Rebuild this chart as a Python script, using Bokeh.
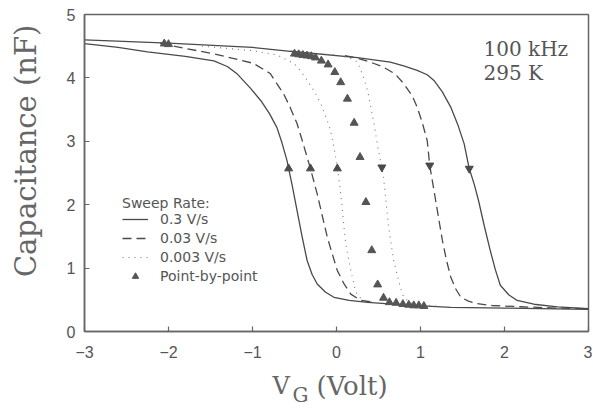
import math
from bokeh.plotting import figure
from bokeh.layouts import row, column
from bokeh.models import (Range1d, FixedTicker, Legend, LegendItem, Label)
from bokeh.embed import file_html
from bokeh.resources import INLINE

# ---- data ----
solid_up_x = [-3.0, -2.6, -2.25, -1.8, -1.46, -1.3, -1.18, -1.02, -0.9, -0.8, -0.71, -0.65, -0.59, -0.53,
              -0.47, -0.41, -0.35, -0.29, -0.23, -0.13, -0.03, 0.15, 0.37, 0.8, 1.36, 2.0, 3.0]
solid_up_c = [4.54, 4.48, 4.41, 4.34, 4.27, 4.18, 4.06, 3.83, 3.64, 3.44, 3.22, 2.98, 2.70, 2.32,
              1.91, 1.50, 1.12, 0.90, 0.75, 0.62, 0.54, 0.49, 0.46, 0.42, 0.38, 0.37, 0.35]
solid_dn_x = [-3.0, -2.0, -1.0, -0.55, 0.25, 0.64, 0.8, 0.96, 1.08, 1.16, 1.26, 1.36, 1.45, 1.52, 1.58,
              1.64, 1.69, 1.76, 1.83, 1.89, 1.95, 2.05, 2.15, 2.35, 2.63, 3.0]
solid_dn_c = [4.60, 4.55, 4.48, 4.42, 4.32, 4.25, 4.19, 4.12, 4.05, 3.96, 3.78, 3.54, 3.24, 2.96, 2.57,
              2.32, 2.07, 1.66, 1.28, 0.98, 0.73, 0.58, 0.49, 0.43, 0.39, 0.36]

dash_up_x = [-2.1, -1.98, -1.46, -0.99, -0.79, -0.63, -0.55, -0.47, -0.41, -0.35, -0.31, -0.23, -0.17,
             -0.11, -0.05, 0.01, 0.09, 0.17, 0.29, 0.45]
dash_up_c = [4.55, 4.51, 4.38, 4.23, 4.07, 3.75, 3.53, 3.28, 3.02, 2.75, 2.57, 2.17, 1.83,
             1.49, 1.22, 0.96, 0.75, 0.59, 0.49, 0.46]
dash_dn_x = [0.1, 0.25, 0.4, 0.56, 0.7, 0.8, 0.9, 0.96, 1.02, 1.08, 1.11, 1.18, 1.26, 1.31, 1.36, 1.42,
             1.48, 1.57, 1.67, 1.85, 2.2, 2.6, 3.0]
dash_dn_c = [4.35, 4.31, 4.25, 4.17, 4.06, 3.91, 3.72, 3.54, 3.30, 3.01, 2.62, 2.07, 1.44, 1.12, 0.86, 0.67,
             0.54, 0.48, 0.44, 0.41, 0.39, 0.37, 0.36]

dot_up_x = [-1.6, -1.0, -0.7, -0.5, -0.42, -0.35, -0.27, -0.19, -0.13, -0.07, -0.03, 0.01, 0.05, 0.11,
            0.17, 0.23, 0.3, 0.45]
dot_up_c = [4.50, 4.43, 4.36, 4.22, 4.10, 3.96, 3.80, 3.60, 3.40, 3.17, 2.90, 2.60, 2.17, 1.38,
            0.96, 0.62, 0.50, 0.46]
dot_dn_x = [-0.4, 0.0, 0.15, 0.25, 0.31, 0.37, 0.44, 0.5, 0.54, 0.56, 0.62, 0.68, 0.76, 0.8, 0.88, 1.0, 1.2]
dot_dn_c = [4.40, 4.36, 4.32, 4.25, 4.05, 3.80, 3.33, 2.85, 2.59, 2.43, 1.65, 1.12, 0.70, 0.54, 0.45, 0.42, 0.40]

arrow_up_x = [-0.57, -0.31, 0.01]
arrow_up_c = [2.57, 2.57, 2.57]
arrow_dn_x = [0.54, 1.11, 1.58]
arrow_dn_c = [2.59, 2.62, 2.57]

pbp_x = [-2.05, -2.0, -0.5, -0.45, -0.4, -0.35, -0.3, -0.25, -0.18, -0.10, -0.02, 0.05, 0.13, 0.21,
         0.28, 0.35, 0.42, 0.49, 0.56, 0.63, 0.71, 0.79, 0.86, 0.92, 0.98, 1.04]
pbp_c = [4.54, 4.53, 4.38, 4.37, 4.36, 4.35, 4.34, 4.32, 4.27, 4.21, 4.09, 3.93, 3.67, 3.29,
         2.75, 2.04, 1.28, 0.74, 0.53, 0.46, 0.45, 0.43, 0.42, 0.41, 0.41, 0.40]

x_ticks = [-3, -2, -1, 0, 1, 2, 3]
x_tick_labels = ["\u22123", "\u22122", "\u22121", "0", "1", "2", "3"]
y_ticks = [0, 1, 2, 3, 4, 5]

legend_title = "Sweep Rate:"
legend_labels = ["0.3 V/s", "0.03 V/s", "0.003 V/s", "Point-by-point"]
note_lines = ["100 kHz", "295 K"]
y_label = "Capacitance (nF)"
x_label_parts = ["V", "G", "(Volt)"]

INK = "#4a4a4a"
TXT = "#555555"
LBL = "#666666"

# overall page geometry (pixels)
YLAB_W = 44          # strip holding the vertical axis title
MAIN_W, MAIN_H = 548, 365
XLAB_W, XLAB_H = 592, 43


def blank(width, height):
    f = figure(width=width, height=height, output_backend="svg", toolbar_location=None,
               x_range=Range1d(0, width), y_range=Range1d(0, height),
               x_axis_type=None, y_axis_type=None, min_border=0)
    f.outline_line_color = None
    f.grid.visible = False
    f.background_fill_color = "white"
    f.border_fill_color = "white"
    return f


p = figure(width=MAIN_W, height=MAIN_H, output_backend="svg", toolbar_location=None,
           x_range=Range1d(-3, 3), y_range=Range1d(0, 5),
           min_border_left=40, min_border_right=4, min_border_top=14, min_border_bottom=34)
p.background_fill_color = "white"
p.border_fill_color = "white"
p.outline_line_color = "#666666"
p.outline_line_width = 1.5
p.grid.visible = False

for ax in (p.xaxis[0], p.yaxis[0]):
    ax.axis_line_color = "#666666"
    ax.axis_line_width = 1.5
    ax.major_tick_in = 5
    ax.major_tick_out = 0
    ax.major_tick_line_color = "#666666"
    ax.major_tick_line_width = 1.2
    ax.minor_tick_line_color = None
    ax.major_label_text_font = "Liberation Sans"
    ax.major_label_text_font_size = "16px"
    ax.major_label_text_color = TXT

p.xaxis.ticker = FixedTicker(ticks=x_ticks)
p.xaxis.major_label_overrides = {t: s for t, s in zip(x_ticks, x_tick_labels)}
p.xaxis.major_label_standoff = 14
p.yaxis.ticker = FixedTicker(ticks=y_ticks)
p.yaxis.major_label_standoff = 9

# curves
r_s1 = p.line(solid_up_x, solid_up_c, line_color=INK, line_width=1.3)
p.line(solid_dn_x, solid_dn_c, line_color=INK, line_width=1.3)
r_d1 = p.line(dash_up_x, dash_up_c, line_color=INK, line_width=1.3, line_dash="9 5")
p.line(dash_dn_x, dash_dn_c, line_color=INK, line_width=1.3, line_dash="9 5")
r_o1 = p.line(dot_up_x, dot_up_c, line_color="#777777", line_width=1.1, line_dash="1 5")
p.line(dot_dn_x, dot_dn_c, line_color="#777777", line_width=1.1, line_dash="1 5")

p.scatter(arrow_up_x, arrow_up_c, marker="triangle", size=8, color=INK)
p.scatter(arrow_dn_x, arrow_dn_c, marker="inverted_triangle", size=8, color=INK)
r_p = p.scatter(pbp_x, pbp_c, marker="triangle", size=8, color="#555555")

legend = Legend(items=[LegendItem(label=legend_labels[0], renderers=[r_s1]),
                       LegendItem(label=legend_labels[1], renderers=[r_d1]),
                       LegendItem(label=legend_labels[2], renderers=[r_o1]),
                       LegendItem(label=legend_labels[3], renderers=[r_p])],
                title=legend_title, location=(38, 47),
                border_line_color=None, background_fill_alpha=0,
                padding=0, margin=0, spacing=3,
                glyph_width=26, glyph_height=16, label_height=16, label_standoff=12,
                label_text_font="DejaVu Sans", label_text_font_size="14px", label_text_color=TXT,
                title_text_font="DejaVu Sans", title_text_font_size="14px", title_text_color=TXT,
                title_text_font_style="normal", title_standoff=0)
p.add_layout(legend)

# annotation text inside the frame
p.add_layout(Label(x=1.75, y=4.45, text=note_lines[0], text_font="DejaVu Serif",
                   text_font_size="20px", text_color=TXT, text_baseline="alphabetic"))
p.add_layout(Label(x=1.75, y=4.07, text=note_lines[1], text_font="DejaVu Serif",
                   text_font_size="20px", text_color=TXT, text_baseline="alphabetic"))

# vertical axis title strip (text centred on its anchor)
py = blank(YLAB_W, MAIN_H)
py.add_layout(Label(x=25, y=MAIN_H - 157, text=y_label, angle=math.pi / 2,
                    text_font="DejaVu Serif", text_font_size="29px", text_color=LBL,
                    text_baseline="middle", text_align="center"))

# horizontal axis title strip (V with subscript G)
px = blank(XLAB_W, XLAB_H)
px.add_layout(Label(x=272, y=23, text=x_label_parts[0], text_font="DejaVu Serif",
                    text_font_size="24px", text_color=LBL, text_baseline="alphabetic"))
px.add_layout(Label(x=292, y=14, text=x_label_parts[1], text_font="DejaVu Serif",
                    text_font_size="20px", text_color=LBL, text_baseline="alphabetic"))
px.add_layout(Label(x=316, y=23, text=x_label_parts[2], text_font="DejaVu Serif",
                    text_font_size="26px", text_color=LBL, text_baseline="alphabetic"))

layout = column(row(py, p, spacing=0), px, spacing=0)
open("out.html", "w").write(file_html(layout, INLINE))
